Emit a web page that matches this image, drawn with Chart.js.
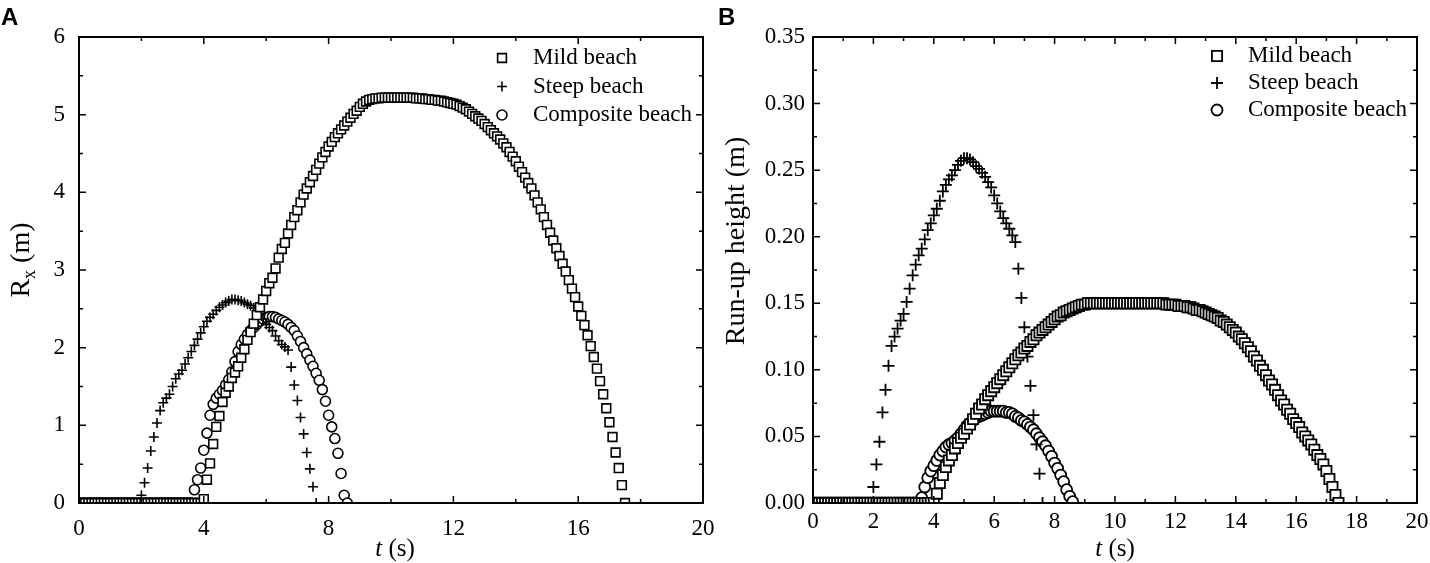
<!DOCTYPE html>
<html><head><meta charset="utf-8">
<script src="https://cdn.jsdelivr.net/npm/chart.js@4.4.1/dist/chart.umd.min.js"></script>
<style>
html,body{margin:0;padding:0;background:#fff;}
#wrap{position:relative;width:1430px;height:563px;overflow:hidden;}
.pane{position:absolute;top:0;width:715px;height:563px;}
canvas{display:block;}
</style></head><body>
<div id="wrap">
<div class="pane" style="left:0"><canvas id="cA" width="715" height="563"></canvas></div>
<div class="pane" style="left:715px"><canvas id="cB" width="715" height="563"></canvas></div>
</div>
<script>
// ---------------- DATA ----------------
const timeStep = 0.1; // sampling interval of the run-up records (s)
const seriesNames = ['Mild beach', 'Steep beach', 'Composite beach'];

// Panel A: horizontal run-up Rx (m)
const mildRx = [
 0,0,0,0,0,0,0,0,0,0, 0,0,0,0,0,0,0,0,0,0, 0,0,0,0,0,0,0,0,0,0, 0,0,0,0,0,0,0,0,0,0,
 0.05,0.30,0.51,0.76,0.98,1.12,1.30,1.42,1.50,1.61,
 1.68,1.76,1.87,1.98,2.10,2.20,2.31,2.42,2.52,2.62,
 2.73,2.83,2.90,3.02,3.16,3.27,3.35,3.47,3.58,3.68,
 3.77,3.87,3.97,4.05,4.13,4.21,4.29,4.37,4.45,4.52,
 4.59,4.65,4.71,4.76,4.81,4.86,4.91,4.96,5.01,5.05,
 5.10,5.14,5.17,5.19,5.20,5.21,5.21,5.22,5.22,5.22,
 5.22,5.22,5.22,5.22,5.22,5.22,5.22,5.22,5.21,5.21,
 5.21,5.20,5.20,5.19,5.19,5.18,5.18,5.17,5.16,5.15,
 5.14,5.13,5.11,5.09,5.07,5.04,5.01,4.98,4.95,4.92,
 4.88,4.84,4.80,4.76,4.72,4.68,4.63,4.58,4.52,4.46,
 4.40,4.33,4.26,4.19,4.12,4.05,3.96,3.87,3.78,3.68,
 3.58,3.48,3.38,3.28,3.18,3.08,2.98,2.87,2.76,2.65,
 2.53,2.41,2.29,2.16,2.02,1.88,1.73,1.57,1.40,1.22,
 1.04,0.85,0.65,0.45,0.23,0.00
];
const steepRx = [
 0,0,0,0,0,0,0,0,0,0, 0,0,0,0,0,0,0,0,0,0,
 0.10,0.26,0.45,0.67,0.85,1.03,1.19,1.29,1.35,1.40,
 1.50,1.60,1.66,1.71,1.79,1.87,1.95,2.03,2.11,2.19,
 2.27,2.34,2.39,2.43,2.48,2.52,2.55,2.58,2.60,2.62,
 2.62,2.61,2.60,2.58,2.56,2.54,2.51,2.47,2.43,2.37,
 2.30,2.26,2.22,2.15,2.09,2.04,2.01,1.97,1.75,1.52,
 1.32,1.10,0.89,0.65,0.44,0.21,0.00
];
const compositeRx = [
 0,0,0,0,0,0,0,0,0,0, 0,0,0,0,0,0,0,0,0,0, 0,0,0,0,0,0,0,0,0,0, 0,0,0,0,0,0,0,
 0.17,0.30,0.45,
 0.68,0.90,1.13,1.27,1.35,1.40,1.45,1.52,1.59,1.69,
 1.82,1.95,2.04,2.11,2.17,2.22,2.26,2.30,2.34,2.37,
 2.39,2.40,2.40,2.39,2.37,2.35,2.33,2.30,2.26,2.22,
 2.15,2.08,2.00,1.92,1.84,1.76,1.67,1.58,1.46,1.31,
 1.13,0.98,0.83,0.64,0.38,0.10,0.00
];

// Panel B: run-up height (m)
const mildH = [
 0,0,0,0,0,0,0,0,0,0, 0,0,0,0,0,0,0,0,0,0, 0,0,0,0,0,0,0,0,0,0, 0,0,0,0,0,0,0,0,0,0,
 0.000,0.007,0.015,0.021,0.027,0.032,0.036,0.041,0.045,0.049,
 0.052,0.056,0.059,0.063,0.067,0.071,0.074,0.078,0.081,0.084,
 0.087,0.090,0.093,0.096,0.099,0.102,0.105,0.108,0.111,0.113,
 0.116,0.118,0.121,0.123,0.126,0.128,0.130,0.132,0.134,0.136,
 0.138,0.140,0.141,0.143,0.144,0.145,0.146,0.147,0.148,0.149,
 0.149,0.150,0.150,0.150,0.150,0.150,0.150,0.150,0.150,0.150,
 0.150,0.150,0.150,0.150,0.150,0.150,0.150,0.150,0.150,0.150,
 0.150,0.150,0.150,0.150,0.150,0.150,0.150,0.149,0.149,0.149,
 0.149,0.148,0.148,0.148,0.147,0.147,0.146,0.145,0.145,0.144,
 0.143,0.142,0.141,0.140,0.139,0.137,0.136,0.134,0.132,0.130,
 0.128,0.125,0.123,0.120,0.117,0.114,0.110,0.107,0.103,0.100,
 0.096,0.092,0.089,0.085,0.081,0.077,0.074,0.070,0.067,0.063,
 0.060,0.057,0.053,0.050,0.047,0.044,0.040,0.036,0.033,0.029,
 0.024,0.018,0.012,0.006,0.000
];
const steepH = [
 0,0,0,0,0,0,0,0,0,0, 0,0,0,0,0,0,0,0,0,0,
 0.012,0.029,0.046,0.068,0.085,0.103,0.118,0.125,0.131,0.137,
 0.142,0.151,0.161,0.171,0.179,0.186,0.191,0.198,0.205,0.210,
 0.216,0.221,0.227,0.234,0.239,0.243,0.246,0.250,0.254,0.257,
 0.259,0.259,0.258,0.256,0.253,0.251,0.248,0.245,0.241,0.237,
 0.231,0.225,0.219,0.214,0.210,0.206,0.201,0.196,0.176,0.154,
 0.132,0.110,0.088,0.066,0.044,0.022,0.000
];
const compositeH = [
 0,0,0,0,0,0,0,0,0,0, 0,0,0,0,0,0,0,0,0,0, 0,0,0,0,0,0,0,0,0,0, 0,0,0,0,0,0,
 0.004,0.012,0.019,0.024,
 0.028,0.032,0.036,0.039,0.042,0.044,0.045,0.047,0.049,0.052,
 0.055,0.058,0.060,0.062,0.064,0.065,0.066,0.067,0.068,0.069,
 0.069,0.069,0.069,0.069,0.068,0.068,0.067,0.065,0.064,0.062,
 0.061,0.059,0.057,0.055,0.052,0.049,0.046,0.043,0.039,0.035,
 0.030,0.026,0.021,0.016,0.010,0.005,0.001
];

// ---------------- RENDERING ----------------
const SERIF = '"Liberation Serif", "Times New Roman", serif';
function toPoints(vals) {
  return vals.map((v, i) => ({ x: Math.round(i * timeStep * 100) / 100, y: v }));
}

function drawMarker(ctx, style, r, x, y, bw) {
  ctx.save();
  ctx.lineWidth = bw; ctx.strokeStyle = '#000'; ctx.fillStyle = '#fff';
  ctx.beginPath();
  if (style === 'rect') {
    const s = r * Math.SQRT1_2;
    ctx.rect(x - s, y - s, 2 * s, 2 * s); ctx.fill(); ctx.stroke();
  } else if (style === 'circle') {
    ctx.arc(x, y, r, 0, Math.PI * 2); ctx.fill(); ctx.stroke();
  } else {
    ctx.moveTo(x - r, y); ctx.lineTo(x + r, y);
    ctx.moveTo(x, y - r); ctx.lineTo(x, y + r); ctx.stroke();
  }
  ctx.restore();
}

const framePlugin = {
  id: 'frameTicks',
  afterDatasetsDraw(chart, args, o) {
    const { ctx, chartArea: a, scales } = chart;
    const xs = scales.x, ys = scales.y;
    ctx.save();
    ctx.strokeStyle = '#000';
    ctx.lineWidth = 1.5;
    const ticksOf = (sc) => {
      const maj = sc.ticks.map(t => t.value);
      const min = [];
      for (let i = 0; i < maj.length - 1; i++) min.push((maj[i] + maj[i + 1]) / 2);
      return { maj, min };
    };
    const tx = ticksOf(xs), ty = ticksOf(ys);
    const vx = (v, len) => {
      const p = xs.getPixelForValue(v);
      ctx.beginPath();
      ctx.moveTo(p, a.bottom); ctx.lineTo(p, a.bottom - len);
      ctx.moveTo(p, a.top); ctx.lineTo(p, a.top + len);
      ctx.stroke();
    };
    const vy = (v, len) => {
      const p = ys.getPixelForValue(v);
      ctx.beginPath();
      ctx.moveTo(a.left, p); ctx.lineTo(a.left + len, p);
      ctx.moveTo(a.right, p); ctx.lineTo(a.right - len, p);
      ctx.stroke();
    };
    tx.maj.forEach(v => vx(v, 7)); tx.min.forEach(v => vx(v, 4));
    ty.maj.forEach(v => vy(v, 7)); ty.min.forEach(v => vy(v, 4));
    ctx.lineWidth = 2;
    ctx.strokeRect(a.left, a.top, a.right - a.left, a.bottom - a.top);
    ctx.restore();
  },
  afterDraw(chart, args, o) {
    const { ctx, chartArea: a } = chart;
    ctx.save();
    ctx.fillStyle = '#000';
    // panel letter
    ctx.font = 'bold 24px "Liberation Sans", Arial, sans-serif';
    ctx.textBaseline = 'alphabetic'; ctx.textAlign = 'left';
    ctx.fillText(o.letter, o.letterX, 25);
    // x title: italic t + " (s)"
    const fs = o.xTitleSize;
    ctx.font = 'italic ' + fs + 'px ' + SERIF;
    const w1 = ctx.measureText('t').width;
    ctx.font = fs + 'px ' + SERIF;
    const w2 = ctx.measureText(' (s)').width;
    const cx = (a.left + a.right) / 2 + o.xTitleDx;
    ctx.textBaseline = 'middle';
    let sx = cx - (w1 + w2) / 2;
    ctx.font = 'italic ' + fs + 'px ' + SERIF; ctx.fillText('t', sx, o.xTitleY);
    ctx.font = fs + 'px ' + SERIF; ctx.fillText(' (s)', sx + w1, o.xTitleY);
    // y title (rotated)
    ctx.save();
    ctx.translate(o.yTitleX, o.yTitleY);
    ctx.rotate(-Math.PI / 2);
    const ys = o.yTitleSize;
    ctx.textBaseline = 'middle';
    const parts = o.yTitleParts; // [text, isSub]
    let total = 0;
    parts.forEach(p => { ctx.font = (p[1] ? Math.round(ys * 0.65) : ys) + 'px ' + SERIF; p.w = ctx.measureText(p[0]).width; total += p.w; });
    let px = -total / 2;
    parts.forEach(p => {
      ctx.font = (p[1] ? Math.round(ys * 0.65) : ys) + 'px ' + SERIF;
      ctx.fillText(p[0], px, p[1] ? ys * 0.28 : 0);
      px += p.w;
    });
    ctx.restore();
    // legend
    const L = o.legend;
    ctx.font = L.size + 'px ' + SERIF;
    ctx.textBaseline = 'middle'; ctx.textAlign = 'left';
    chart.data.datasets.forEach((ds, i) => {
      const y = L.y0 + i * L.dy;
      drawMarker(ctx, ds.pointStyle, ds.pointRadius, L.markerX, y, ds.borderWidth);
      ctx.fillStyle = '#000';
      ctx.fillText(ds.label, L.textX, y);
    });
    ctx.restore();
  }
};

function makeChart(id, cfg) {
  const mk = (label, vals, style, r, bw) => ({
    label, data: toPoints(vals), pointStyle: style, pointRadius: r, pointHoverRadius: r,
    borderWidth: bw, borderColor: '#000', backgroundColor: '#fff', showLine: false, clip: 0
  });
  return new Chart(document.getElementById(id), {
    type: 'scatter',
    data: {
      datasets: [
        mk(seriesNames[0], cfg.mild, 'rect', cfg.rRect, cfg.bw),
        mk(seriesNames[1], cfg.steep, 'cross', cfg.rCross, cfg.bw),
        mk(seriesNames[2], cfg.comp, 'circle', cfg.rCircle, cfg.bw)
      ]
    },
    options: {
      responsive: false, animation: false, events: [],
      layout: { padding: { left: 0, top: 37, right: cfg.padRight, bottom: 0 } },
      plugins: {
        legend: { display: false }, tooltip: { enabled: false },
        frameTicks: cfg.deco
      },
      scales: {
        x: {
          type: 'linear', min: 0, max: 20,
          ticks: { stepSize: cfg.xStep, color: '#000', font: { family: SERIF, size: 23 }, padding: cfg.xPad, maxRotation: 0, autoSkip: false },
          grid: { display: false, drawTicks: false, tickLength: 0 }, border: { display: false },
          afterFit: (s) => { s.height = 60; s.paddingLeft = 0; s.paddingRight = 0; }
        },
        y: {
          type: 'linear', min: 0, max: cfg.yMax,
          ticks: { stepSize: cfg.yStep, color: '#000', font: { family: SERIF, size: 23 }, padding: cfg.yPad, autoSkip: false,
                   callback: (v) => v.toFixed(cfg.yDec) },
          grid: { display: false, drawTicks: false, tickLength: 0 }, border: { display: false },
          afterFit: (s) => { s.width = cfg.yWidth; s.paddingTop = 0; s.paddingBottom = 0; }
        }
      }
    },
    plugins: [framePlugin]
  });
}

makeChart('cA', {
  mild: mildRx, steep: steepRx, comp: compositeRx,
  rRect: 6.2, rCross: 5.0, rCircle: 5.0, bw: 1.6,
  padRight: 12, yWidth: 79, xStep: 4, yMax: 6, yStep: 1, yDec: 0, xPad: 12, yPad: 14,
  deco: {
    letter: 'A', letterX: 1, xTitleSize: 25, xTitleY: 549, xTitleDx: 4,
    yTitleX: 22, yTitleY: 260, yTitleSize: 28, yTitleParts: [['R', false], ['x', true], [' (m)', false]],
    legend: { markerX: 502, textX: 533, y0: 58, dy: 28.5, size: 23 }
  }
});
makeChart('cB', {
  mild: mildH, steep: steepH, comp: compositeH,
  rRect: 7.2, rCross: 6.0, rCircle: 5.5, bw: 1.8,
  padRight: 13, yWidth: 98, xStep: 2, yMax: 0.35, yStep: 0.05, yDec: 2, xPad: 5, yPad: 8,
  deco: {
    letter: 'B', letterX: 3, xTitleSize: 25, xTitleY: 549, xTitleDx: 0,
    yTitleX: 22, yTitleY: 241, yTitleSize: 28, yTitleParts: [['Run-up height (m)', false]],
    legend: { markerX: 502, textX: 533, y0: 56, dy: 27, size: 23 }
  }
});
</script>
</body></html>
